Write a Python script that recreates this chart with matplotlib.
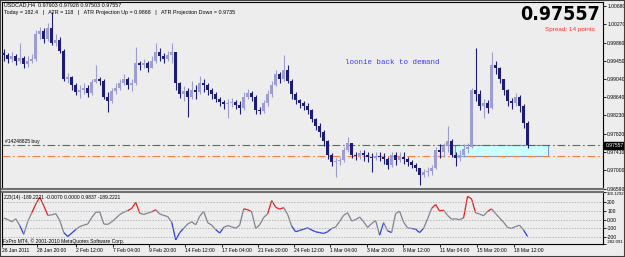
import numpy as np
import matplotlib.pyplot as plt
from matplotlib.patches import Rectangle
from matplotlib.collections import LineCollection
from matplotlib import font_manager as fm
import matplotlib.transforms as mtransforms

plt.rcParams['font.family'] = ['Liberation Sans', 'DejaVu Sans']

# USDCAD H4 bars (open of a bar = close of the previous one)
first_open = 0.9962
close = [
    0.9958, 0.9950, 0.9955, 0.9945, 0.9952, 0.9938, 0.9945, 0.9950,
    1.0005, 1.0012, 0.9995, 1.0018, 0.9985, 0.9992, 0.9968, 0.9905,
    0.9910, 0.9890, 0.9875, 0.9880, 0.9885, 0.9872, 0.9898, 0.9905,
    0.9900, 0.9865, 0.9855, 0.9878, 0.9885, 0.9895, 0.9905, 0.9890,
    0.9895, 0.9940, 0.9935, 0.9940, 0.9930, 0.9945, 0.9965, 0.9955,
    0.9950, 0.9958, 0.9965, 0.9895, 0.9870, 0.9878, 0.9865, 0.9880,
    0.9875, 0.9895, 0.9890, 0.9880, 0.9870, 0.9860, 0.9852, 0.9848,
    0.9850, 0.9852, 0.9846, 0.9840, 0.9865, 0.9872, 0.9865, 0.9835,
    0.9832, 0.9850, 0.9870, 0.9890, 0.9915, 0.9905, 0.9925, 0.9900,
    0.9870, 0.9858, 0.9850, 0.9845, 0.9835, 0.9815, 0.9800, 0.9785,
    0.9765, 0.9735, 0.9718, 0.9720, 0.9722, 0.9745, 0.9760, 0.9735,
    0.9732, 0.9738, 0.9735, 0.9730, 0.9728, 0.9733, 0.9730, 0.9725,
    0.9712, 0.9735, 0.9722, 0.9730, 0.9725, 0.9718, 0.9712, 0.9705,
    0.9690, 0.9695, 0.9698, 0.9705, 0.9745, 0.9740, 0.9755, 0.9765,
    0.9735, 0.9728, 0.9735, 0.9748, 0.9752, 0.9880, 0.9870, 0.9845,
    0.9850, 0.9840, 0.9935, 0.9930, 0.9905, 0.9880, 0.9855, 0.9850,
    0.9865, 0.9845, 0.9805, 0.97557]
high = [
    0.9972, 0.9962, 0.9966, 0.9960, 0.9985, 0.9955, 0.9955, 0.9960,
    1.0015, 1.0022, 1.0018, 1.0030, 1.0055, 1.0005, 0.9998, 0.9972,
    0.9918, 0.9912, 0.9895, 0.9892, 0.9895, 0.9890, 0.9905, 0.9935,
    0.9910, 0.9905, 0.9875, 0.9885, 0.9895, 0.9905, 0.9915, 0.9910,
    0.9905, 0.9976, 0.9945, 0.9950, 0.9945, 0.9955, 0.9985, 0.9975,
    0.9962, 0.9968, 0.9985, 0.9965, 0.9898, 0.9888, 0.9885, 0.9900,
    0.9890, 0.9912, 0.9905, 0.9895, 0.9885, 0.9875, 0.9865, 0.9858,
    0.9860, 0.9862, 0.9858, 0.9855, 0.9875, 0.9882, 0.9878, 0.9868,
    0.9842, 0.9858, 0.9880, 0.9900, 0.9925, 0.9920, 0.9958, 0.9935,
    0.9905, 0.9875, 0.9860, 0.9856, 0.9850, 0.9838, 0.9818, 0.9805,
    0.9790, 0.9768, 0.9738, 0.9728, 0.9730, 0.9752, 0.9775, 0.9762,
    0.9742, 0.9745, 0.9745, 0.9742, 0.9738, 0.9742, 0.9740, 0.9738,
    0.9730, 0.9742, 0.9740, 0.9740, 0.9740, 0.9730, 0.9722, 0.9716,
    0.9705, 0.9702, 0.9708, 0.9712, 0.9752, 0.9758, 0.9762, 0.9800,
    0.9770, 0.9740, 0.9745, 0.9758, 0.9760, 0.9885, 0.9974, 0.9880,
    0.9860, 0.9858, 0.9966, 0.9945, 0.9932, 0.9905, 0.9882, 0.9862,
    0.9872, 0.9868, 0.9848, 0.9810]
low = [
    0.9945, 0.9940, 0.9943, 0.9936, 0.9940, 0.9930, 0.9932, 0.9940,
    0.9945, 0.9995, 0.9985, 0.9990, 0.9980, 0.9978, 0.9962, 0.9900,
    0.9895, 0.9880, 0.9868, 0.9863, 0.9870, 0.9865, 0.9868, 0.9895,
    0.9890, 0.9860, 0.9830, 0.9850, 0.9870, 0.9880, 0.9890, 0.9882,
    0.9878, 0.9892, 0.9925, 0.9930, 0.9920, 0.9928, 0.9940, 0.9945,
    0.9940, 0.9945, 0.9940, 0.9880, 0.9862, 0.9855, 0.9820, 0.9860,
    0.9860, 0.9870, 0.9875, 0.9868, 0.9860, 0.9852, 0.9845, 0.9838,
    0.9818, 0.9842, 0.9838, 0.9825, 0.9835, 0.9860, 0.9855, 0.9825,
    0.9825, 0.9828, 0.9845, 0.9865, 0.9888, 0.9895, 0.9900, 0.9895,
    0.9860, 0.9848, 0.9840, 0.9836, 0.9825, 0.9808, 0.9790, 0.9775,
    0.9755, 0.9725, 0.9710, 0.9685, 0.9712, 0.9718, 0.9740, 0.9728,
    0.9722, 0.9725, 0.9720, 0.9718, 0.9696, 0.9722, 0.9720, 0.9715,
    0.9703, 0.9708, 0.9712, 0.9718, 0.9715, 0.9710, 0.9705, 0.9698,
    0.9667, 0.9685, 0.9688, 0.9690, 0.9702, 0.9728, 0.9730, 0.9740,
    0.9730, 0.9710, 0.9720, 0.9730, 0.9738, 0.9750, 0.9855, 0.9835,
    0.9818, 0.9828, 0.9838, 0.9915, 0.9895, 0.9868, 0.9845, 0.9838,
    0.9845, 0.9830, 0.9795, 0.9750]

# indicator sub-window values, one per bar
cci = [
    20, 0, -25, 10, -70, -170, -20, 80,
    180, 260, 160, 50, 55, 70, -10, -150,
    -195, -155, -115, -80, -64, -50, 25, 85,
    90, -50, -55, -25, 15, 60, 85, 105,
    130, 200, 75, 60, 75, 90, 115, 65,
    50, 35, -30, -235, -150, -100, -50, -25,
    -60, 40, 95, -35, -64, -115, -155, -90,
    -68, -83, -100, -64, 125, 115, 90, -102,
    -60, 25, 68, 220, 145, 120, 140, 60,
    -75, -140, -125, -110, -95, -120, -141, -150,
    -160, -140, -102, -85, -20, 50, 80, -15,
    0, 30, -25, -90, -45, -10, -180, -35,
    -130, -150, 70, 97, -30, -95, -102, -110,
    -150, -100, 10, 130, 175, 100, 110, 50,
    5, 10, 0, 20, 270, 240, 80, 65,
    45, 95, 125, 70, 20, -30, -90, -102,
    -80, -65, -120, -195]

price_ticks = [1.00680, 1.00270, 0.99860, 0.99450, 0.99040, 0.98640,
               0.98230, 0.97820, 0.97410, 0.97000, 0.96590]
cci_ticks = [320.1292, 200, 100, 0, -100, -200, -282.091]
cci_tick_labels = ['320.1292', '200', '100', '0.00', '-100', '-200', '-282.091']
date_pos = [-0.45, 8.3, 18.1, 27.3, 36.2, 45.4, 54.5, 63.7, 72.5,
            81.6, 90.8, 99.9, 109.1, 118.3, 127.5]
date_labels = ['26 Jan 2011', '28 Jan 20:00', '2 Feb 12:00', '7 Feb 04:00',
               '9 Feb 20:00', '14 Feb 12:00', '17 Feb 04:00', '21 Feb 20:00',
               '24 Feb 12:00', '1 Mar 04:00', '3 Mar 20:00', '8 Mar 12:00',
               '11 Mar 04:00', '15 Mar 20:00', '18 Mar 12:00']

last_price = 0.97557
order_price = 0.97557
stop_price = 0.97320
zone_top, zone_bottom = 0.97557, 0.97330
zone_start, zone_end = 112.9, 136.1

bg = '#ededed'
bull_col = '#9d9dcf'
bear_col = '#1c1c70'

W, H = 625, 257


def px_box(x0, y0, x1, y1):
    return [x0 / W, 1 - y1 / H, (x1 - x0) / W, (y1 - y0) / H]


# a narrow bold face for the big price, if one is installed
big_font = None
for f in fm.fontManager.ttflist:
    nm = (f.name + ' ' + str(f.stretch)).lower()
    w = f.weight if isinstance(f.weight, int) else 400
    if ('narrow' in nm or 'condensed' in nm) and (w >= 600 or 'bold' in f.fname.lower()):
        big_font = fm.FontProperties(fname=f.fname, size=14)
        break
if big_font is None:
    big_font = fm.FontProperties(family=['Roboto', 'DejaVu Sans'], weight='black', size=13)

fig = plt.figure(figsize=(W / 100, H / 100), dpi=100, facecolor=bg)
ax = fig.add_axes(px_box(2, 2, 603, 189), facecolor=bg)
ax2 = fig.add_axes(px_box(2, 192, 603, 244), facecolor=bg)

## main price window
close = np.array(close)
high = np.array(high)
low = np.array(low)
opens = np.r_[first_open, close[:-1]]
x = np.arange(len(close))
cols = np.where(close >= opens, bull_col, bear_col)

ax.add_patch(Rectangle((zone_start, zone_bottom), zone_end - zone_start,
                       zone_top - zone_bottom, facecolor='#ccffff',
                       edgecolor='#6f9be0', lw=0.8, zorder=1))
ax.vlines(x, low, high, colors=cols, lw=0.8, zorder=3)
ax.bar(x, np.maximum(np.abs(close - opens), 0.00004),
       bottom=np.minimum(close, opens), width=0.7, color=cols, lw=0, zorder=3)

ax.axhline(order_price, color='#2e8b2e', lw=0.8, ls=(0, (7, 2.5, 1.5, 2.5)), zorder=2)
ax.axhline(stop_price, color='#ff7f3f', lw=0.8, ls=(0, (7, 2.5, 1.5, 2.5)), zorder=2)

ax.set_xlim(-0.375, 149.875)
ax.set_ylim(0.9658, 1.0077)
ax.set_xticks([])
ax.yaxis.tick_right()
ax.set_yticks(price_ticks)
ax.set_yticklabels(['%.5f' % p for p in price_ticks])
ax.tick_params(axis='y', labelsize=3.6, length=2, width=0.6, pad=1)
for s in ax.spines.values():
    s.set_color('black')
    s.set_linewidth(0.8)
ax.spines['bottom'].set_color('#707070')
ax.spines['bottom'].set_linewidth(1.5)

trans = mtransforms.blended_transform_factory(ax.transAxes, ax.transData)
ax.text(1.004, last_price, '%.5f' % last_price, transform=trans, color='white',
        fontsize=3.6, va='center', ha='left',
        bbox=dict(boxstyle='square,pad=0.25', fc='black', ec='black'))

## indicator window
pts = np.column_stack([x, cci])
segs = np.stack([pts[:-1], pts[1:]], axis=1)
seg_cols = []
for a, b in zip(cci[:-1], cci[1:]):
    m = (a + b) / 2
    seg_cols.append('#e02020' if m > 100 else ('#2a40e0' if m < -100 else '#7f8190'))
ax2.add_collection(LineCollection(segs, colors=seg_cols, lw=0.9))
for lv in [200, 100, 0, -100, -200]:
    ax2.axhline(lv, color='#a0a0a0', lw=0.5, ls=(0, (2, 2)))

ax2.set_xlim(-0.375, 149.875)
ax2.set_ylim(-282.091, 320.1292)
ax2.yaxis.tick_right()
ax2.set_yticks(cci_ticks)
ax2.set_yticklabels(cci_tick_labels)
ax2.set_xticks(date_pos)
ax2.set_xticklabels(date_labels, ha='left')
ax2.tick_params(labelsize=3.6, length=2, width=0.6, pad=1)
ylabs = ax2.get_yticklabels()
ylabs[0].set_va('top')
ylabs[0].set_fontsize(3.1)
ylabs[-1].set_va('bottom')
ylabs[-1].set_fontsize(3.1)
for s in ax2.spines.values():
    s.set_color('black')
    s.set_linewidth(0.8)
ax2.spines['top'].set_color('#707070')
ax2.spines['top'].set_linewidth(1.5)

## texts
fig.text(4 / W, 1 - 5 / H, 'USDCAD,H4  0.97903 0.97928 0.97503 0.97557',
         fontsize=3.9, va='center')
fig.text(4 / W, 1 - 12 / H,
         'Today = 182.4   |   ATR = 118   |   ATR Projection Up = 0.9868   |   '
         'ATR Projection Down = 0.9735', fontsize=3.9, va='center')
fig.text(600 / W, 1 - 14 / H, '0.97557', ha='right', va='center',
         fontproperties=big_font, color='black')
fig.text(595 / W, 1 - 29 / H, 'Spread: 14 points', ha='right', va='center',
         fontsize=4.6, color='#ff3030')
fig.text(345 / W, 1 - 62 / H, 'loonie back to demand', va='center', fontsize=5.4,
         color='#3c3cff', family=['Liberation Mono', 'DejaVu Sans Mono'])
fig.text(5 / W, 1 - 142 / H, '#14248825 buy', va='center', fontsize=3.6)
fig.text(4 / W, 1 - 197.5 / H, 'ZZI(14) -189.2221 -0.0070 0.0000 0.9837 -189.2221',
         va='center', fontsize=3.6)
fig.text(3 / W, 1 - 241.5 / H, 'FxPro MT4, \u00a9 2001-2010 MetaQuotes Software Corp.',
         va='center', fontsize=3.6)

fig.patches.append(Rectangle((0, 0), 1, 1, transform=fig.transFigure, fill=False,
                             ec='#404040', lw=1.5))

fig.savefig('out.png', dpi=100, facecolor=bg)
